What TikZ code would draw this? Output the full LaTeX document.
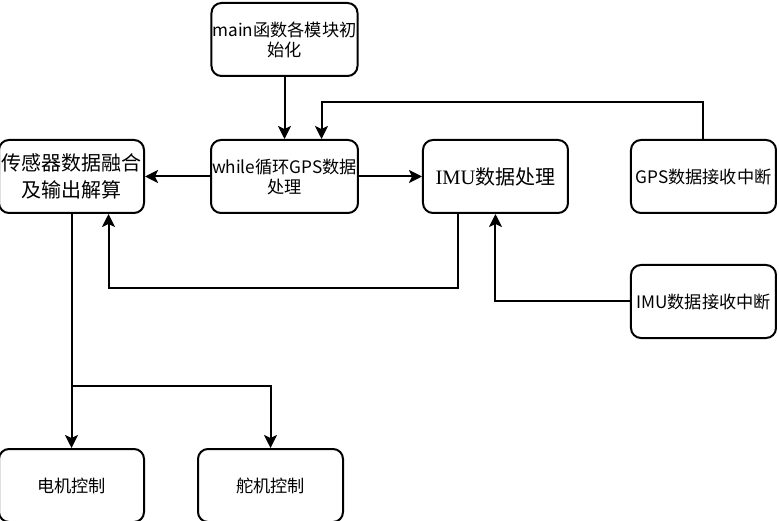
\documentclass[tikz,border=0pt]{standalone}
\usepackage{fontspec}
\usepackage{tikz}
\usetikzlibrary{positioning,arrows.meta}
\setmainfont{Noto Sans CJK SC}
\newfontfamily\imufont{Liberation Serif}

\begin{document}
\begin{tikzpicture}[
  x=1pt, y=1pt,
  box/.style={
    rectangle, draw, rounded corners=10pt, line width=2pt,
    align=center, inner sep=1pt,
    font=\fontsize{17.2}{20}\selectfont,
    minimum width=145pt, minimum height=73pt
  },
  bigbox/.style={
    box, font=\fontsize{20}{27}\selectfont
  },
  arrow/.style={-{Stealth[length=13pt,width=13pt,inset=3pt]}, line width=2pt}
]

\useasboundingbox (0,0) rectangle (779,-521);

% =====================================================
% INIT AND MAIN LOOP
% =====================================================

\node[box] (main) at (284.5,-39.5)
{main函数各模块初\\始化};

\node[box, below=62pt of main] (loop)
{while循环GPS数据\\处理};

\draw[arrow] (main) -- (loop);

% =====================================================
% FUSION AND IMU PROCESSING
% =====================================================

\node[bigbox, left=65pt of loop] (fusion)
{传感器数据融合\\及输出解算};

\node[bigbox, right=63pt of loop] (imuproc)
{{\imufont\fontsize{20.5}{27}\selectfont IMU}数据处理};

\draw[arrow] (loop) -- (fusion);
\draw[arrow] (loop) -- (imuproc);
\draw[arrow] ([xshift=-37pt]imuproc.south) -- ++(0,-74) -| ([xshift=37pt]fusion.south);

% =====================================================
% INTERRUPTS
% =====================================================

\node[box, right=61pt of imuproc] (gpsint)
{GPS数据接收中断};

\node[box, below=50pt of gpsint] (imuint)
{IMU数据接收中断};

\draw[arrow] (gpsint.north) -- ++(0,37) -| ([xshift=37pt]loop.north);
\draw[arrow] (imuint) -| (imuproc);

% =====================================================
% ACTUATORS
% =====================================================

\node[box, below=234pt of fusion] (motor)
{电机控制};

\node[box, right=52pt of motor] (servo)
{舵机控制};

\coordinate (split) at ([yshift=-172pt]fusion.south);

\draw[arrow] (fusion) -- (motor);
\draw[arrow] (split) -| (servo);

\end{tikzpicture}
\end{document}
